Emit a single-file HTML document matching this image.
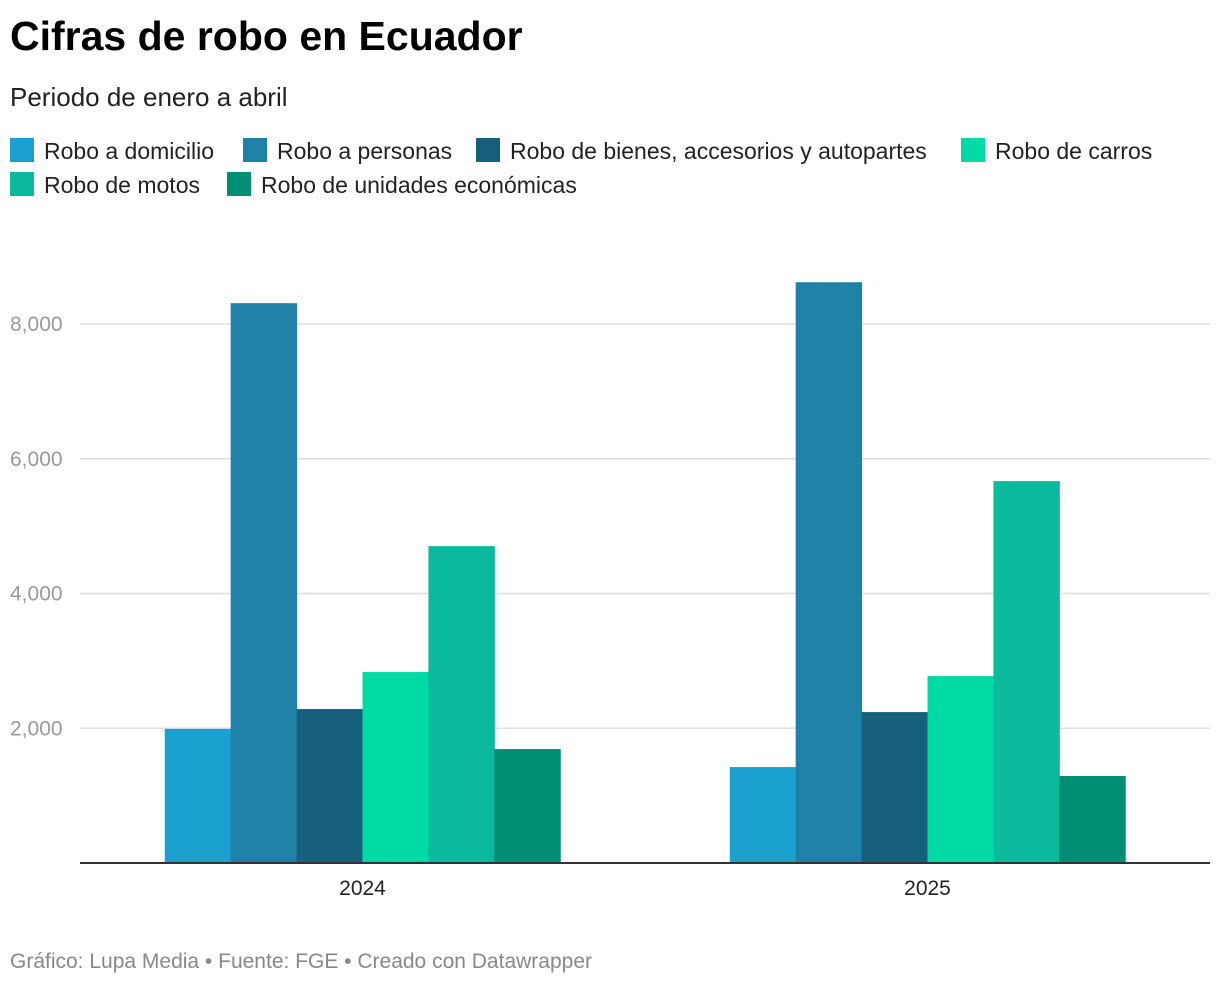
<!DOCTYPE html>
<html><head><meta charset="utf-8"><style>
body{margin:0;background:#fff;font-family:"Liberation Sans",sans-serif;}
#wrap{position:relative;width:1220px;height:986px;overflow:hidden;}
</style></head><body>
<div id="wrap">
<svg id="svg" width="1220" height="986">
<text x="10" y="50" font-size="41" font-weight="bold" fill="#000">Cifras de robo en Ecuador</text>
<text x="10" y="106" font-size="26" fill="#222">Periodo de enero a abril</text>
<g id="legend"></g>
<g id="grid"></g>
<g id="bars"></g>
<line x1="80" x2="1210" y1="863" y2="863" stroke="#333" stroke-width="2"/>
<text x="10" y="968" font-size="21" fill="#888">Gráfico: Lupa Media • Fuente: FGE • Creado con Datawrapper</text>
</svg>
</div>
<script>
const categories=["2024","2025"];
const seriesNames=["Robo a domicilio","Robo a personas","Robo de bienes, accesorios y autopartes","Robo de carros","Robo de motos","Robo de unidades económicas"];
const domicilio=[1990,1424];
const personas=[8309,8620];
const bienes=[2285,2240];
const carros=[2834,2774];
const motos=[4703,5668];
const unidades=[1691,1291];
const yTicks=[2000,4000,6000,8000];
const tickLabels=["2,000","4,000","6,000","8,000"];
const series=[domicilio,personas,bienes,carros,motos,unidades];
const colors=["#1aa1d0","#1f81a5","#16607b","#00dba6","#0bb99d","#008f74"];
const NS="http://www.w3.org/2000/svg";
const x0=80,x1=1210,y0=863,ppu=(863-324)/8000;
const y=v=>y0-v*ppu;
const band=(x1-x0)/categories.length;
const groupW=band*0.7,barW=groupW/series.length;
function mk(tag,attrs,parent){const e=document.createElementNS(NS,tag);for(const k in attrs)e.setAttribute(k,attrs[k]);parent.appendChild(e);return e;}
const grid=document.getElementById('grid');
yTicks.forEach((t,i)=>{
 const l=mk('line',{x1:x0,x2:x1,y1:y(t),y2:y(t),stroke:'#ddd','stroke-width':1.5},grid);
 
 
 const tx=mk('text',{x:10,y:y(t)+7,'font-size':21,fill:'#999'},grid);
 tx.textContent=tickLabels[i];
 
 
});
const bars=document.getElementById('bars');
categories.forEach((c,ci)=>{
 const cx=x0+band*(ci+0.5);
 const gx=cx-groupW/2;
 series.forEach((s,si)=>{
  const r=mk('rect',{x:gx+si*barW,y:y(s[ci]),width:barW+0.5,height:y0-y(s[ci]),fill:colors[si]},bars);
  
  
 });
 const t=mk('text',{x:cx,y:895,'font-size':21,fill:'#222','text-anchor':'middle'},bars);
 t.textContent=c;
 
 
});
const leg=document.getElementById('legend');
const lpos=[[10,138],[243,138],[476,138],[961,138],[10,172],[227,172]];
seriesNames.forEach((n,i)=>{
 const [lx,ly]=lpos[i];
 const r=mk('rect',{x:lx,y:ly,width:24,height:24,fill:colors[i]},leg);
 
 
 const t=mk('text',{x:lx+34,y:ly+21,'font-size':23,fill:'#222'},leg);
 t.textContent=n;
 
 
});
</script>
</body></html>
